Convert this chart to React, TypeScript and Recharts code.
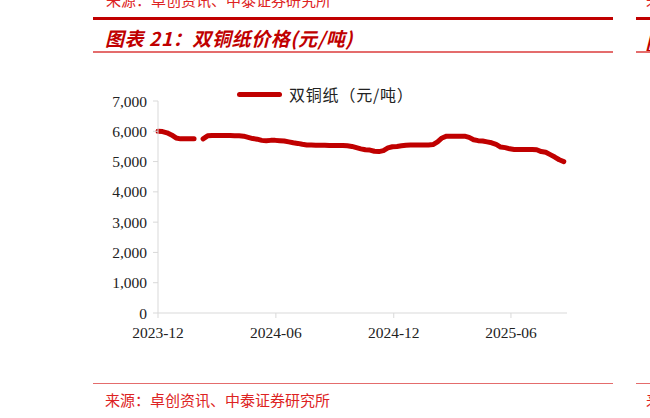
import { LineChart, Line, XAxis, YAxis } from "recharts";

// weekly quotes, 元/吨 (null = no quote around Spring Festival)
const WEEKS: string[] = [
  "2023-12-01", "2023-12-08", "2023-12-15", "2023-12-22", "2023-12-29",
  "2024-01-05", "2024-01-12", "2024-01-19", "2024-01-26",
  "2024-02-02", "2024-02-09", "2024-02-16", "2024-02-23",
  "2024-03-01", "2024-03-08", "2024-03-15", "2024-03-22", "2024-03-29",
  "2024-04-05", "2024-04-12", "2024-04-19", "2024-04-26",
  "2024-05-03", "2024-05-10", "2024-05-17", "2024-05-24", "2024-05-31",
  "2024-06-07", "2024-06-14", "2024-06-21", "2024-06-28",
  "2024-07-05", "2024-07-12", "2024-07-19", "2024-07-26",
  "2024-08-02", "2024-08-09", "2024-08-16", "2024-08-23", "2024-08-30",
  "2024-09-06", "2024-09-13", "2024-09-20", "2024-09-27",
  "2024-10-04", "2024-10-11", "2024-10-18", "2024-10-25",
  "2024-11-01", "2024-11-08", "2024-11-15", "2024-11-22", "2024-11-29",
  "2024-12-06", "2024-12-13", "2024-12-20", "2024-12-27",
  "2025-01-03", "2025-01-10", "2025-01-17", "2025-01-24", "2025-01-31",
  "2025-02-07", "2025-02-14", "2025-02-21", "2025-02-28",
  "2025-03-07", "2025-03-14", "2025-03-21", "2025-03-28",
  "2025-04-04", "2025-04-11", "2025-04-18", "2025-04-25",
  "2025-05-02", "2025-05-09", "2025-05-16", "2025-05-23", "2025-05-30",
  "2025-06-06", "2025-06-13", "2025-06-20", "2025-06-27",
  "2025-07-04", "2025-07-11", "2025-07-18", "2025-07-25",
  "2025-08-01", "2025-08-08", "2025-08-15", "2025-08-22",
];

const PRICE: (number | null)[] = [
  6000, 5990, 5950, 5880, 5780,
  5750, 5750, 5750, 5750,
  null, 5750, 5850, 5860,
  5860, 5860, 5860, 5860, 5850,
  5850, 5840, 5800, 5760,
  5740, 5700, 5690, 5700, 5700,
  5690, 5680, 5650, 5620,
  5600, 5570, 5550, 5545,
  5540, 5540, 5540, 5530, 5530,
  5530, 5530, 5520, 5500,
  5460, 5420, 5390, 5380,
  5340, 5330, 5360, 5450, 5490,
  5500, 5520, 5540, 5550,
  5550, 5550, 5550, 5550, 5560,
  5650, 5780, 5840, 5840,
  5840, 5840, 5840, 5800,
  5720, 5690, 5680, 5650,
  5620, 5570, 5480, 5460, 5420,
  5400, 5400, 5400, 5400,
  5400, 5390, 5330, 5310,
  5230, 5150, 5060, 5000,
];

const X_TICKS = ["2023-12-01", "2024-06-01", "2024-12-01", "2025-06-01"];
const X_LABELS = ["2023-12", "2024-06", "2024-12", "2025-06"];
const X_END = "2025-08-27";
const Y_TICKS = [0, 1000, 2000, 3000, 4000, 5000, 6000, 7000];

const SERIES_NAME = "双铜纸（元/吨）";
const TITLE = "图表 21：双铜纸价格(元/吨)";
const SOURCE = "来源：卓创资讯、中泰证券研究所";

const RED = "#c00000";
const PINK = "#e46c6c";
const CJK = "'Noto Sans CJK SC', sans-serif";
const SERIF = "'Liberation Serif', serif";

const data = WEEKS.map((d, i) => ({ t: Date.parse(d), price: PRICE[i] }));
const tickTimes = X_TICKS.map((d) => Date.parse(d));
const labelOf = (t: number) => X_LABELS[tickTimes.indexOf(t)] ?? "";

const rule = (top: number, left: number, width: number, h: number, c: string) => (
  <div style={{ position: "absolute", top, left, width, height: h, background: c }} />
);

export default function App() {
  return (
    <div style={{ position: "absolute", left: 0, top: 0, width: 650, height: 418, overflow: "hidden", background: "#fff" }}>
      <div style={{ position: "absolute", top: -8, left: 106, fontFamily: CJK, fontSize: 15, lineHeight: "15px", color: "#d22", whiteSpace: "nowrap" }}>{SOURCE}</div>
      <div style={{ position: "absolute", top: -8, left: 646, fontFamily: CJK, fontSize: 15, lineHeight: "15px", color: "#d22" }}>来</div>
      {rule(17, 93, 520, 3, RED)}
      {rule(17, 636, 14, 3, RED)}
      <div style={{ position: "absolute", top: 26, left: 105, fontFamily: CJK, fontSize: 19, lineHeight: "24px", letterSpacing: 0.6, fontWeight: 700, fontStyle: "italic", color: RED, whiteSpace: "nowrap" }}>{TITLE}</div>
      <div style={{ position: "absolute", top: 31, left: 645, fontFamily: CJK, fontSize: 19, lineHeight: "24px", fontWeight: 700, fontStyle: "italic", color: RED }}>图</div>
      {rule(51, 93, 520, 1.5, PINK)}
      {rule(51, 636, 14, 1.5, PINK)}

      <div style={{ position: "absolute", left: 0, top: 0 }}>
        <LineChart width={650} height={418} data={data} margin={{ top: 101, right: 83, bottom: 75, left: 98 }}>
          <XAxis
            dataKey="t"
            type="number"
            scale="time"
            domain={[tickTimes[0], Date.parse(X_END)]}
            ticks={tickTimes}
            tickFormatter={labelOf}
            height={30}
            stroke="#d9d9d9"
            tickSize={5}
            tickMargin={9}
            tick={{ fontFamily: SERIF, fontSize: 15.5, fill: "#222" }}
          />
          <YAxis
            domain={[0, 7000]}
            ticks={Y_TICKS}
            width={60}
            stroke="#d9d9d9"
            tickSize={5}
            tickMargin={6}
            tickFormatter={(v: number) => v.toLocaleString("en-US")}
            tick={{ fontFamily: SERIF, fontSize: 15.5, fill: "#222" }}
          />
          <Line
            dataKey="price"
            name={SERIES_NAME}
            type="linear"
            stroke={RED}
            strokeWidth={5}
            strokeLinecap="round"
            strokeLinejoin="round"
            dot={false}
            activeDot={false}
            isAnimationActive={false}
          />
        </LineChart>
      </div>

      {/* legend */}
      <div style={{ position: "absolute", top: 83, left: 237, display: "flex", alignItems: "center", fontFamily: CJK, fontSize: 16, lineHeight: "22px", letterSpacing: 0.8, color: "#222", whiteSpace: "nowrap" }}>
        <span style={{ display: "inline-block", width: 45, height: 5, background: RED, borderRadius: 3, marginRight: 7 }} />
        {SERIES_NAME}
      </div>

      {rule(382.5, 93, 520, 1.5, PINK)}
      {rule(382.5, 636, 14, 1.5, PINK)}
      <div style={{ position: "absolute", top: 392, left: 105, fontFamily: CJK, fontSize: 15, lineHeight: "15px", color: "#d22", whiteSpace: "nowrap" }}>{SOURCE}</div>
      <div style={{ position: "absolute", top: 392, left: 646, fontFamily: CJK, fontSize: 15, lineHeight: "15px", color: "#d22" }}>来</div>
    </div>
  );
}
